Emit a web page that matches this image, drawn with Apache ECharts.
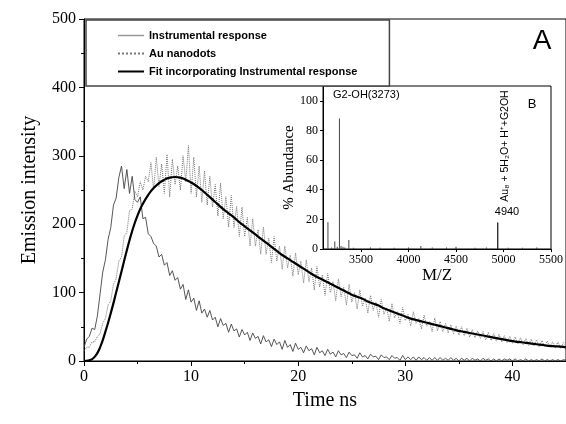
<!DOCTYPE html>
<html>
<head>
<meta charset="utf-8">
<script src="https://cdn.jsdelivr.net/npm/echarts@6.0.0/dist/echarts.min.js"></script>
<style>
html, body { margin: 0; padding: 0; background: #fff; }
#main { width: 566px; height: 424px; }
</style>
</head>
<body>
<div id="main"></div>
<script>
// 衰减曲线的采样间隔 (ns)
var dt = 0.25;
var fitStep = 0.5;

// Instrumental response, 0 ~ 45 ns
var instrumental = [
  20, 32, 36, 48, 46, 66, 98, 130, 148, 178, 195, 228,
  238, 268, 285, 252, 280, 245, 270, 236, 232, 240, 208, 210,
  186, 182, 172, 168, 152, 156, 140, 144, 125, 132, 118, 122,
  105, 112, 90, 104, 86, 92, 74, 88, 70, 76, 64, 74,
  60, 64, 50, 62, 52, 55, 42, 54, 44, 47, 35, 46,
  38, 42, 30, 41, 33, 36, 25, 37, 28, 31, 21, 32,
  24, 28, 17, 30, 20, 24, 14, 26, 17, 20, 12, 22,
  15, 18, 9, 20, 12, 15, 8, 17, 10, 13, 6, 15,
  9, 11, 5, 13, 8, 9, 4, 12, 6, 8, 3, 10,
  6, 7, 2, 9, 5, 6, 2, 8, 4, 5, 1, 8,
  2, 6, 2, 6, 1, 6, 2, 5, 1, 5, 1, 5,
  1, 5, 1, 4, 1, 5, 1, 4, 0, 4, 1, 4,
  0, 4, 1, 3, 0, 4, 1, 3, 0, 3, 0, 3,
  0, 3, 1, 3, 0, 3, 0, 2, 0, 3, 0, 2,
  0, 2, 0, 3, 0, 2, 0, 2, 0, 2, 0, 2,
  1
];

// Au nanodots
var nanodots = [
  15, 20, 20, 28, 28, 36, 40, 55, 62, 82, 88, 112,
  120, 146, 152, 182, 188, 220, 222, 248, 240, 262, 250, 270,
  262, 290, 250, 298, 255, 288, 245, 302, 240, 295, 258, 285,
  250, 300, 262, 315, 245, 298, 240, 285, 232, 278, 228, 270,
  225, 258, 212, 260, 208, 240, 196, 242, 195, 226, 182, 225,
  182, 210, 168, 208, 168, 192, 156, 196, 156, 180, 144, 182,
  146, 168, 134, 168, 136, 155, 124, 158, 126, 146, 114, 148,
  116, 136, 104, 138, 108, 126, 96, 128, 100, 116, 88, 120,
  94, 108, 82, 112, 86, 100, 76, 104, 80, 92, 70, 96,
  74, 86, 64, 90, 68, 78, 58, 84, 63, 72, 55, 78,
  59, 68, 51, 72, 55, 62, 47, 67, 51, 58, 43, 63,
  44, 58, 43, 55, 41, 53, 40, 51, 38, 50, 37, 48,
  35, 46, 34, 44, 33, 43, 31, 42, 30, 40, 29, 39,
  28, 37, 27, 36, 26, 35, 25, 34, 24, 33, 23, 32,
  22, 31, 21, 30, 21, 29, 20, 28, 19, 28, 18, 27,
  22
];

// Fit incorporating Instrumental response
var fit = [
  0, 1, 6, 20, 43, 70, 100, 131, 162, 190,
  213, 230, 243, 253, 260, 265, 268, 269, 268, 265,
  261, 256, 250, 243, 236, 229, 222, 216, 210, 203,
  197, 191, 185, 179, 173, 167, 161, 155, 150, 145,
  140, 135, 130, 125, 121, 117, 113, 109, 105, 101,
  97, 94, 91, 87, 84, 81, 77, 74, 71, 68,
  65, 62, 60, 58, 56, 54, 52, 50, 48, 46,
  44, 42.5, 41, 39.5, 38, 36.5, 35, 33.5, 32, 30.5,
  29, 28, 27, 26, 25, 24, 23, 22, 21.5, 21,
  20
];

// 插图B: 质谱
var msMz = [3152, 3190, 3224, 3250, 3273, 3290, 3310, 3330, 3372, 3420, 3600, 3700,
            3850, 4000, 4130, 4250, 4400, 4500, 4700, 4820, 4940, 5050, 5200, 5350];
var msAbund = [18, 1, 5, 1.5, 88, 2, 1.5, 1, 6, 0.8, 1, 0.8,
               0.8, 1, 2, 1, 1, 1.5, 0.8, 1, 18, 0.8, 0.8, 1];

var xTicksMS = [3500, 4000, 4500, 5000, 5500];
var yTicksMS = [0, 20, 40, 60, 80, 100];

function toPairs(step, vals) {
  return vals.map(function (v, i) { return [i * step, v]; });
}

var serif = 'Liberation Serif, Times New Roman, serif';
var sans = 'Liberation Sans, Arial, sans-serif';

var chart = echarts.init(document.getElementById('main'));

var msData = msMz.map(function (m, i) {
  var item = { value: [m, msAbund[i]] };
  if (m === 4940) {
    item.itemStyle = { color: '#000', borderColor: '#000', borderWidth: 0.6 };
  }
  return item;
});

var option = {
  animation: false,
  backgroundColor: '#fff',
  grid: [
    { left: 84, top: 19, right: 0, bottom: 63, show: true, borderColor: '#000', borderWidth: 1 },
    { left: 323, top: 86, right: 13, bottom: 175, show: true, borderColor: '#000', borderWidth: 1 }
  ],
  legend: {
    data: [
      { name: 'Instrumental response', lineStyle: { color: '#999', width: 1.5 } },
      { name: 'Au nanodots' },
      { name: 'Fit incorporating Instrumental response' }
    ],
    orient: 'vertical',
    left: 86,
    top: 20,
    itemWidth: 26,
    itemHeight: 10,
    itemGap: 7,
    padding: [10, 32, 9, 31],
    borderColor: '#444',
    borderWidth: 1.5,
    backgroundColor: '#fff',
    itemStyle: { opacity: 0 },
    textStyle: { fontFamily: sans, fontSize: 11, fontWeight: 'bold', color: '#000' }
  },
  xAxis: [
    {
      type: 'value', gridIndex: 0, min: 0, max: 45, interval: 10,
      name: 'Time ns', nameLocation: 'middle', nameGap: 30,
      nameTextStyle: { fontFamily: serif, fontSize: 20, color: '#000' },
      axisLine: { lineStyle: { color: '#000', width: 1 } },
      axisTick: { length: 5, lineStyle: { color: '#000' } },
      minorTick: { show: true, splitNumber: 2, length: 3, lineStyle: { color: '#000' } },
      axisLabel: { fontFamily: serif, fontSize: 16, color: '#000', margin: 8, showMaxLabel: false },
      splitLine: { show: false }
    },
    {
      type: 'value', gridIndex: 1, min: 3100, max: 5500,
      name: 'M/Z', nameLocation: 'middle', nameGap: 15,
      nameTextStyle: { fontFamily: serif, fontSize: 17, color: '#000' },
      axisLine: { lineStyle: { color: '#000', width: 1 } },
      axisTick: { length: 3, customValues: xTicksMS, lineStyle: { color: '#000' } },
      axisLabel: {
        fontFamily: serif, fontSize: 12, color: '#000', margin: 5, customValues: xTicksMS,
        formatter: function (v) { return String(v); }
      },
      splitLine: { show: false }
    }
  ],
  yAxis: [
    {
      type: 'value', gridIndex: 0, min: 0, max: 500, interval: 100,
      name: 'Emission intensity', nameLocation: 'middle', nameGap: 44,
      nameTextStyle: { fontFamily: serif, fontSize: 20, color: '#000' },
      axisLine: { show: true, lineStyle: { color: '#000', width: 1 } },
      axisTick: { show: true, length: 5, lineStyle: { color: '#000' } },
      minorTick: { show: true, splitNumber: 2, length: 3, lineStyle: { color: '#000' } },
      axisLabel: { fontFamily: serif, fontSize: 16, color: '#000', margin: 8 },
      splitLine: { show: false }
    },
    {
      type: 'value', gridIndex: 1, min: 0, max: 110,
      name: '% Abundance', nameLocation: 'middle', nameGap: 15,
      nameTextStyle: { fontFamily: serif, fontSize: 15, color: '#000' },
      axisLine: { show: true, lineStyle: { color: '#000', width: 1 } },
      axisTick: { show: true, length: 3, customValues: yTicksMS, lineStyle: { color: '#000' } },
      axisLabel: { fontFamily: serif, fontSize: 12, color: '#000', margin: 5, customValues: yTicksMS },
      splitLine: { show: false }
    }
  ],
  series: [
    {
      name: 'Instrumental response', type: 'line', xAxisIndex: 0, yAxisIndex: 0,
      data: toPairs(dt, instrumental), symbol: 'none',
      lineStyle: { color: '#444', width: 0.9 }, itemStyle: { color: '#999' }, z: 2
    },
    {
      name: 'Au nanodots', type: 'line', xAxisIndex: 0, yAxisIndex: 0,
      data: toPairs(dt, nanodots), symbol: 'none',
      lineStyle: { color: '#777', width: 1, type: 'dotted' }, itemStyle: { color: '#777' }, z: 3
    },
    {
      name: 'Fit incorporating Instrumental response', type: 'line', xAxisIndex: 0, yAxisIndex: 0,
      data: toPairs(fitStep, fit), symbol: 'none', smooth: true,
      lineStyle: { color: '#000', width: 2.2 }, itemStyle: { color: '#000' }, z: 4
    },
    {
      name: 'MS', type: 'bar', xAxisIndex: 1, yAxisIndex: 1,
      data: msData, barWidth: 1,
      itemStyle: { color: '#444' }, z: 5
    }
  ],
  graphic: [
    { type: 'text', x: 542, y: 41, style: { text: 'A', font: '28px ' + sans, fill: '#000', textAlign: 'center', textVerticalAlign: 'middle' } },
    { type: 'text', x: 333, y: 95, style: { text: 'G2-OH(3273)', font: '11px ' + sans, fill: '#000', textAlign: 'left', textVerticalAlign: 'middle' } },
    { type: 'text', x: 532, y: 104, style: { text: 'B', font: '13px ' + sans, fill: '#000', textAlign: 'center', textVerticalAlign: 'middle' } },
    { type: 'text', x: 505, y: 146, rotation: Math.PI / 2, style: { text: 'Au\u2088 + 5H\u2082O+ H\u207A+G2OH', font: '10.5px ' + sans, fill: '#000', textAlign: 'center', textVerticalAlign: 'middle' } },
    { type: 'text', x: 507, y: 212, style: { text: '4940', font: '11px ' + sans, fill: '#000', textAlign: 'center', textVerticalAlign: 'middle' } }
  ]
};

chart.setOption(option);
</script>
</body>
</html>
